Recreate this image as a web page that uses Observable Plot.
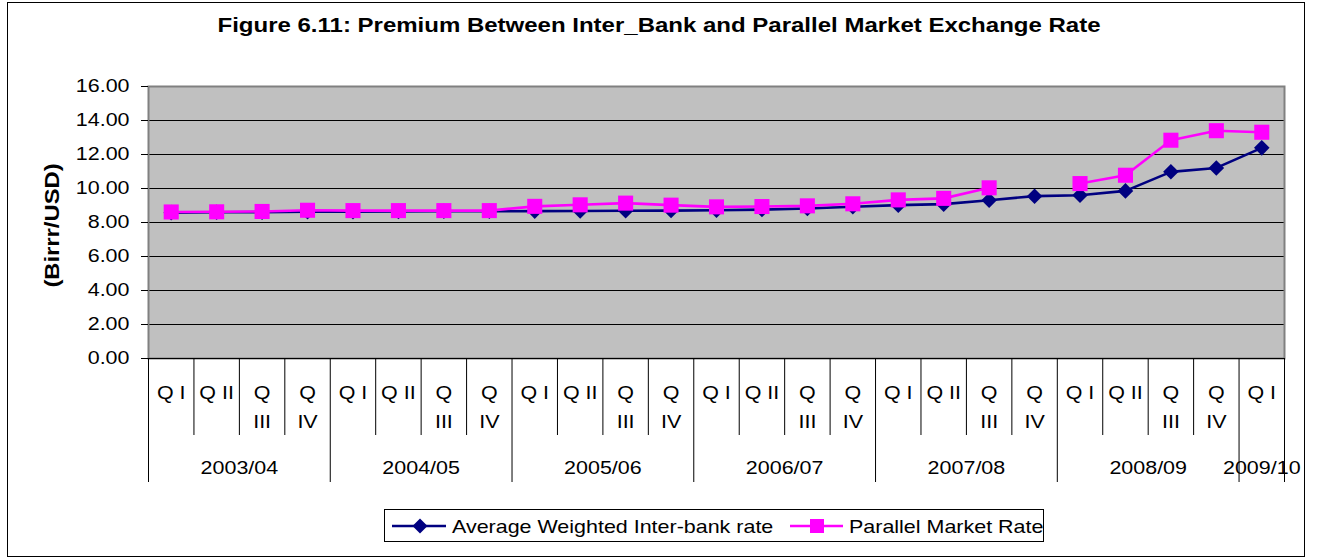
<!DOCTYPE html>
<html><head><meta charset="utf-8">
<script src="https://cdn.jsdelivr.net/npm/d3@7"></script>
<script src="https://cdn.jsdelivr.net/npm/@observablehq/plot@0.6"></script>
<style>
html,body{margin:0;padding:0;background:#fff;}
#wrap{position:relative;width:1318px;height:558px;overflow:hidden;font-family:Arial,"Liberation Sans",Helvetica,sans-serif;}
#wrap > svg{position:absolute;left:0;top:0;}
</style></head><body>
<div id="wrap">
<svg id="deco" width="1318" height="558" font-family="Arial, 'Liberation Sans', sans-serif">
  <rect x="7.5" y="2.5" width="1297" height="554" fill="none" stroke="#000"/>
  <text id="title" data-k="1.2" x="659" y="32" text-anchor="middle" font-weight="bold" font-size="20">Figure 6.11: Premium Between Inter_Bank and Parallel Market Exchange Rate</text>
  <rect x="384.5" y="509.5" width="659" height="32" fill="#fff" stroke="#000"/>
  <line x1="392" x2="446" y1="526" y2="526" stroke="#000080" stroke-width="2.5"/>
  <path d="M420,518.5L427.5,526L420,533.5L412.5,526Z" fill="#000080"/>
  <text x="452" y="532.5" font-size="18.5">Average Weighted Inter-bank rate</text>
  <line x1="790" x2="843" y1="526" y2="526" stroke="#FF00FF" stroke-width="2.5"/>
  <rect x="810" y="519" width="14" height="14" fill="#FF00FF"/>
  <text x="849" y="532.5" font-size="18.5">Parallel Market Rate</text>
</svg>
</div>
<script>
// ---- data ----
const quarters = ["Q I","Q II","Q III","Q IV","Q I","Q II","Q III","Q IV","Q I","Q II","Q III","Q IV",
                  "Q I","Q II","Q III","Q IV","Q I","Q II","Q III","Q IV","Q I","Q II","Q III","Q IV","Q I"];
const years = ["2003/04","2004/05","2005/06","2006/07","2007/08","2008/09","2009/10"];
const quartersPerYear = [4,4,4,4,4,4,1];
const interbank = [8.58,8.60,8.61,8.63, 8.64,8.65,8.66,8.66, 8.67,8.68,8.69,8.70,
                   8.72,8.76,8.82,8.93, 9.02,9.08,9.31,9.55, 9.60,9.86,10.98,11.21, 12.39];
const parallel  = [8.62,8.63,8.65,8.72, 8.70,8.70,8.70,8.70, 8.95,9.04,9.14,9.02,
                   8.92,8.94,8.98,9.10, 9.33,9.42,10.04,null, 10.29,10.78,12.84,13.40, 13.31];
const yTicks = [0,2,4,6,8,10,12,14,16];
const seriesNames = ["Average Weighted Inter-bank rate","Parallel Market Rate"];

// ---- layout ----
const W = 1318, H = 558, mL = 148, mR = 34, mT = 86, mB = 200;
const frameH = H - mT - mB;

const rows = quarters.map((q,i)=>({i, q, ib: interbank[i], pm: parallel[i]}));
let acc = 0;
const yearRows = years.map((y,j)=>{const s = acc; acc += quartersPerYear[j]; return {year:y, s, e:acc};});
const yearEdges = [0, ...yearRows.map(d=>d.e)];
const qEdges = d3.range(1, quarters.length).filter(e=>!yearEdges.includes(e));
const xc = d => d.i + 0.5;

const chart = Plot.plot({
  width: W, height: H,
  marginLeft: mL, marginRight: mR, marginTop: mT, marginBottom: mB,
  style: {fontFamily: "Arial, 'Liberation Sans', sans-serif", fontSize: "18.5px", background: "transparent", color: "#000", overflow: "visible"},
  x: {type: "linear", domain: [0, quarters.length], axis: null},
  y: {domain: [0, 16], axis: null},
  marks: [
    Plot.frame({fill: "#C0C0C0", stroke: null}),
    Plot.gridY(yTicks.filter(v => v > 0 && v < 16), {stroke: "#000", strokeOpacity: 1, strokeWidth: 1}),
    Plot.frame({stroke: "#808080", strokeWidth: 2, fill: null}),
    Plot.ruleY([0], {stroke: "#000", strokeWidth: 1}),
    Plot.axisY(yTicks, {tickSize: 7, tickPadding: 12, tickFormat: d => d.toFixed(2), label: null, fontSize: 18.5, stroke: "#000"}),
    Plot.ruleX(qEdges, {insetTop: frameH, insetBottom: -77, stroke: "#000"}),
    Plot.ruleX(yearEdges, {insetTop: frameH, insetBottom: -124, stroke: "#000"}),
    Plot.text(rows, {x: xc, text: "q", frameAnchor: "bottom", lineAnchor: "top", dy: 19, lineWidth: 1.75, lineHeight: 1.6, fontSize: 18.5}),
    Plot.text(yearRows, {x: d => (d.s + d.e) / 2, text: "year", frameAnchor: "bottom", lineAnchor: "top", dy: 102, fontSize: 18.5}),
    Plot.text(["(Birrr/USD)"], {frameAnchor: "left", textAnchor: "middle", rotate: -90, dx: -96, dy: 3, fontWeight: "bold", fontSize: 20.5}),
    Plot.line(rows, {x: xc, y: "ib", stroke: "#000080", strokeWidth: 2.6}),
    Plot.dot(rows, {x: xc, y: "ib", symbol: "diamond2", r: 7, fill: "#000080", stroke: null}),
    Plot.line(rows, {x: xc, y: "pm", stroke: "#FF00FF", strokeWidth: 2.6}),
    Plot.dot(rows, {x: xc, y: "pm", symbol: "square", r: 8.5, fill: "#FF00FF", stroke: null})
  ]
});
const wrap = document.getElementById("wrap");
wrap.insertBefore(chart, document.getElementById("deco"));

// widen glyphs horizontally, as in the reference rendering
function stretch(root, kDefault) {
  root.querySelectorAll("text").forEach(t => {
    const k = t.dataset && t.dataset.k ? +t.dataset.k : kDefault;
    const spans = t.querySelectorAll("tspan");
    const targets = spans.length ? Array.from(spans) : [t];
    targets.forEach(el => {
      const L = el.getComputedTextLength();
      if (L > 0) { el.setAttribute("textLength", (L * k).toFixed(1)); el.setAttribute("lengthAdjust", "spacingAndGlyphs"); }
    });
  });
}
stretch(wrap, 1.16);
</script>
</body></html>
